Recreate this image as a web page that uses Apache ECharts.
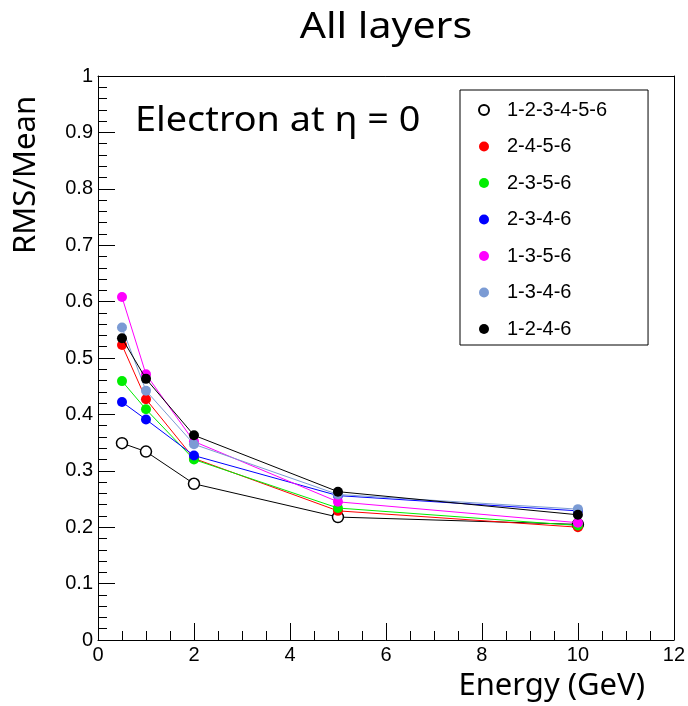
<!DOCTYPE html>
<html>
<head>
<meta charset="utf-8">
<style>
  html, body { margin: 0; padding: 0; background: #fff; }
  #chart { width: 688px; height: 706px; }
</style>
<script src="https://cdn.jsdelivr.net/npm/echarts@6/dist/echarts.min.js"></script>
</head>
<body>
<div id="chart"></div>
<script>
var energies = [0.5, 1, 2, 5, 10];
var seriesNames = ['1-2-3-4-5-6', '2-4-5-6', '2-3-5-6', '2-3-4-6', '1-3-5-6', '1-3-4-6', '1-2-4-6'];
var rms123456 = [0.349, 0.334, 0.277, 0.218, 0.205];
var rms2456 = [0.523, 0.427, 0.322, 0.229, 0.200];
var rms2356 = [0.459, 0.409, 0.320, 0.234, 0.203];
var rms2346 = [0.422, 0.391, 0.327, 0.256, 0.229];
var rms1356 = [0.608, 0.471, 0.352, 0.245, 0.208];
var rms1346 = [0.554, 0.442, 0.347, 0.258, 0.232];
var rms1246 = [0.535, 0.463, 0.363, 0.263, 0.222];
var seriesColors = ['#000000', '#ff0000', '#00ee00', '#0000ff', '#ff00ff', '#7b9bd4', '#000000'];

(function () {
  var chart = echarts.init(document.getElementById('chart'));
  var values = [rms123456, rms2456, rms2356, rms2346, rms1356, rms1346, rms1246];
  var tickFont = 'Liberation Sans, Arial, sans-serif';
  var textFont = 'Noto Sans, Open Sans, sans-serif';

  function pairs(ys) {
    return energies.map(function (x, i) {
      return [x, ys[i]];
    });
  }

  var series = values.map(function (ys, idx) {
    var open = idx === 0;
    return {
      name: seriesNames[idx],
      type: 'line',
      data: pairs(ys),
      symbol: 'circle',
      symbolSize: open ? 11 : 10,
      showSymbol: true,
      lineStyle: { color: seriesColors[idx], width: 1 },
      itemStyle: open
        ? { color: '#ffffff', borderColor: '#000000', borderWidth: 1.5 }
        : { color: seriesColors[idx], borderWidth: 0 },
      z: 2 + idx,
    };
  });

  // frame lines on the top and right sides, no ticks or labels
  function frameAxis(position, min, max) {
    return {
      type: 'value',
      position: position,
      min: min,
      max: max,
      axisLine: { show: true, onZero: false, lineStyle: { color: '#000', width: 1 } },
      axisTick: { show: false },
      axisLabel: { show: false },
      splitLine: { show: false },
    };
  }

  var option = {
    animation: false,
    backgroundColor: '#ffffff',
    grid: {
      left: 98,
      top: 76,
      right: 12,
      bottom: 66,
      containLabel: false,
    },
    xAxis: [
      {
        type: 'value',
        position: 'bottom',
        min: 0,
        max: 12,
        interval: 2,
        axisLine: { show: true, onZero: false, lineStyle: { color: '#000', width: 1 } },
        axisTick: { show: true, inside: true, length: 17, lineStyle: { color: '#000', width: 1 } },
        minorTick: { show: true, splitNumber: 4, length: 9, lineStyle: { color: '#000', width: 1 } },
        splitLine: { show: false },
        axisLabel: { color: '#000', fontSize: 20, fontFamily: tickFont, margin: 5 },
      },
      frameAxis('top', 0, 12),
    ],
    yAxis: [
      {
        type: 'value',
        position: 'left',
        min: 0,
        max: 1,
        interval: 0.1,
        axisLine: { show: true, onZero: false, lineStyle: { color: '#000', width: 1 } },
        axisTick: { show: true, inside: true, length: 17, lineStyle: { color: '#000', width: 1 } },
        minorTick: { show: true, splitNumber: 5, length: 9, lineStyle: { color: '#000', width: 1 } },
        splitLine: { show: false },
        axisLabel: { color: '#000', fontSize: 20, fontFamily: tickFont, margin: 5 },
      },
      frameAxis('right', 0, 1),
    ],
    legend: {
      orient: 'vertical',
      left: 460,
      top: 90,
      padding: [10, 41, 6, 18],
      itemGap: 16.5,
      itemWidth: 10,
      itemHeight: 10,
      icon: 'circle',
      borderColor: '#000',
      borderWidth: 1,
      backgroundColor: '#fff',
      textStyle: { color: '#000', fontSize: 20, fontFamily: tickFont, padding: [0, 0, 0, 13] },
      data: seriesNames,
    },
    graphic: [
      {
        type: 'text',
        x: 386,
        y: 27,
        scaleX: 1.11,
        style: {
          text: 'All layers',
          font: '37px ' + textFont,
          fill: '#000',
          align: 'center',
          verticalAlign: 'middle',
        },
      },
      {
        type: 'text',
        x: 135,
        y: 121,
        scaleX: 1.08,
        style: {
          text: 'Electron at η = 0',
          font: '35px ' + textFont,
          fill: '#000',
          align: 'left',
          verticalAlign: 'middle',
        },
      },
      {
        type: 'text',
        x: 26,
        y: 175,
        rotation: Math.PI / 2,
        style: {
          text: 'RMS/Mean',
          font: '31px ' + textFont,
          fill: '#000',
          align: 'center',
          verticalAlign: 'middle',
        },
      },
      {
        type: 'text',
        x: 645,
        y: 686,
        style: {
          text: 'Energy (GeV)',
          font: '31px ' + textFont,
          fill: '#000',
          align: 'right',
          verticalAlign: 'middle',
        },
      },
    ],
    series: series,
  };

  chart.setOption(option);
})();
</script>
</body>
</html>
